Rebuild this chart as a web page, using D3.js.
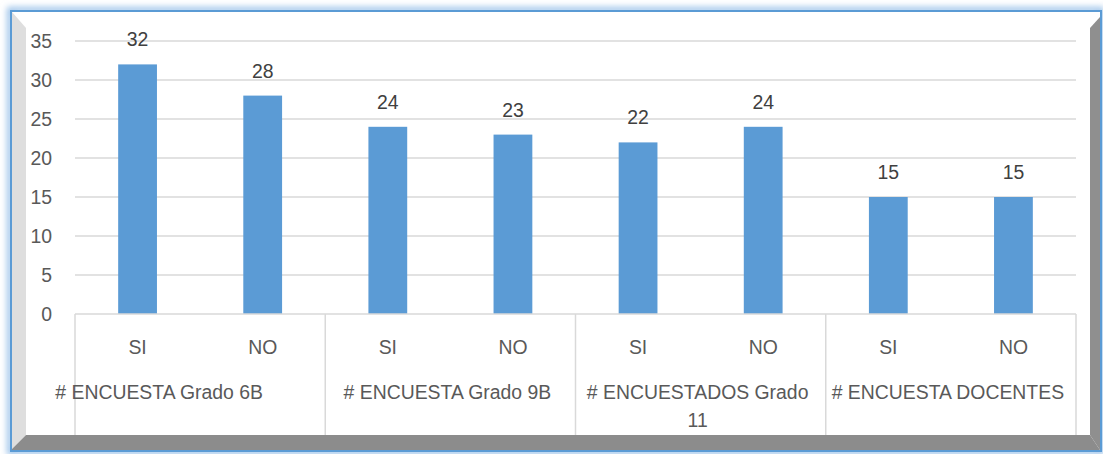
<!DOCTYPE html>
<meta charset="utf-8">
<style>
body { margin: 0; background: #fff; }
text { font-family: "Liberation Sans", Arial, sans-serif; font-size: 19.4px; }
.tick-label { fill: #595959; }
.cat-label { fill: #595959; }
.value-label { fill: #404040; }
</style>
<svg width="1103" height="454"></svg>
<script src="https://d3js.org/d3.v7.min.js"></script>
<script>

var groups = ["# ENCUESTA Grado 6B", "# ENCUESTA Grado 9B", "# ENCUESTADOS Grado 11", "# ENCUESTA DOCENTES"];
var answers = ["SI", "NO"];
var siValues = [32, 24, 22, 15];
var noValues = [28, 23, 24, 15];
var yTicks = [0, 5, 10, 15, 20, 25, 30, 35];

var svg = d3.select("svg");

// frame: blue glowing border + 3d bevel
var defs = svg.append("defs");
defs.append("filter").attr("id", "glow")
	.attr("x", "-5%").attr("y", "-5%").attr("width", "110%").attr("height", "110%")
  .append("feGaussianBlur").attr("stdDeviation", 3);

svg.append("rect")
	.attr("x", 10).attr("y", 10).attr("width", 1091).attr("height", 442)
	.attr("fill", "none").attr("stroke", "#9cc3ea").attr("stroke-width", 6)
	.attr("filter", "url(#glow)");
svg.append("rect")
	.attr("x", 11).attr("y", 11).attr("width", 1090).attr("height", 440)
	.attr("fill", "#fff").attr("stroke", "#5b9bd5").attr("stroke-width", 2);

// left wall (light)
svg.append("polygon")
	.attr("points", "12,12 26,28 26,435 12,449")
	.attr("fill", "#dedede");
// bottom floor (dark)
svg.append("polygon")
	.attr("points", "26,435 1090,435 1100,450 12,450 12,449")
	.attr("fill", "#8c8c8c");
// right wall (dark)
svg.append("polygon")
	.attr("points", "1090,28 1100,17 1100,450 1090,435")
	.attr("fill", "#8f8f8f");

var plotLeft = 75, plotRight = 1076, plotTop = 41, plotBottom = 314, axisBottom = 435;

var y = d3.scaleLinear().domain([0, 35]).range([plotBottom, plotTop]);
var x0 = d3.scaleBand().domain(groups).range([plotLeft, plotRight]).padding(0);
var x1 = d3.scaleBand().domain(answers).range([0, x0.bandwidth()]).padding(0);
var barW = x1.bandwidth() * 0.31;

// gridlines
svg.append("g")
  .selectAll("line")
  .data(yTicks.filter(function(d) { return d > 0; }))
  .enter().append("line")
	.attr("x1", plotLeft).attr("x2", plotRight)
	.attr("y1", function(d) { return y(d); })
	.attr("y2", function(d) { return y(d); })
	.attr("stroke", "#d9d9d9").attr("stroke-width", 1.5);

// y tick labels
svg.append("g")
  .selectAll("text")
  .data(yTicks)
  .enter().append("text")
	.attr("class", "tick-label")
	.attr("x", 52)
	.attr("y", function(d) { return y(d); })
	.attr("dy", "0.35em")
	.attr("text-anchor", "end")
	.text(function(d) { return d; });

// bars
var rows = [];
groups.forEach(function(g, i) {
	rows.push({group: g, answer: "SI", value: siValues[i]});
	rows.push({group: g, answer: "NO", value: noValues[i]});
});

var bar = svg.append("g")
  .selectAll("g")
  .data(rows)
  .enter().append("g")
	.attr("transform", function(d) {
		return "translate(" + (x0(d.group) + x1(d.answer) + x1.bandwidth() / 2) + ",0)";
	});

bar.append("rect")
	.attr("x", -barW / 2)
	.attr("width", barW)
	.attr("y", function(d) { return y(d.value); })
	.attr("height", function(d) { return plotBottom - y(d.value); })
	.attr("fill", "#5b9bd5");

bar.append("text")
	.attr("class", "value-label")
	.attr("text-anchor", "middle")
	.attr("y", function(d) { return y(d.value) - 18; })
	.text(function(d) { return d.value; });

// category axis (two levels)
var axis = svg.append("g");
axis.append("line")
	.attr("x1", plotLeft).attr("x2", plotRight)
	.attr("y1", plotBottom).attr("y2", plotBottom)
	.attr("stroke", "#d9d9d9").attr("stroke-width", 1.5);

var seps = groups.map(function(g) { return x0(g); }).concat([plotRight]);
axis.selectAll(".sep")
  .data(seps)
  .enter().append("line")
	.attr("x1", function(d) { return d; }).attr("x2", function(d) { return d; })
	.attr("y1", plotBottom).attr("y2", axisBottom)
	.attr("stroke", "#d9d9d9").attr("stroke-width", 1.5);

axis.selectAll(".ans")
  .data(rows)
  .enter().append("text")
	.attr("class", "cat-label")
	.attr("text-anchor", "middle")
	.attr("x", function(d) { return x0(d.group) + x1(d.answer) + x1.bandwidth() / 2; })
	.attr("y", 354)
	.text(function(d) { return d.answer; });

axis.selectAll(".grp")
  .data(groups)
  .enter().append("text")
	.attr("class", "cat-label")
	.attr("text-anchor", "middle")
	.attr("x", function(d, i) { return x0(d) + x0.bandwidth() / 2 + (i === 0 ? -41 : -3); })
	.attr("y", 399)
	.each(function(d) { wrap(d3.select(this), d, 236); });

// simple word wrap
function wrap(text, str, width) {
	var words = str.split(" "), line = [];
	var xx = text.attr("x");
	var tspan = text.append("tspan").attr("x", xx);
	words.forEach(function(w) {
		line.push(w);
		tspan.text(line.join(" "));
		if (tspan.node().getComputedTextLength() > width && line.length > 1) {
			line.pop();
			tspan.text(line.join(" "));
			line = [w];
			tspan = text.append("tspan").attr("x", xx).attr("dy", 28).text(w);
		}
	});
}

</script>
